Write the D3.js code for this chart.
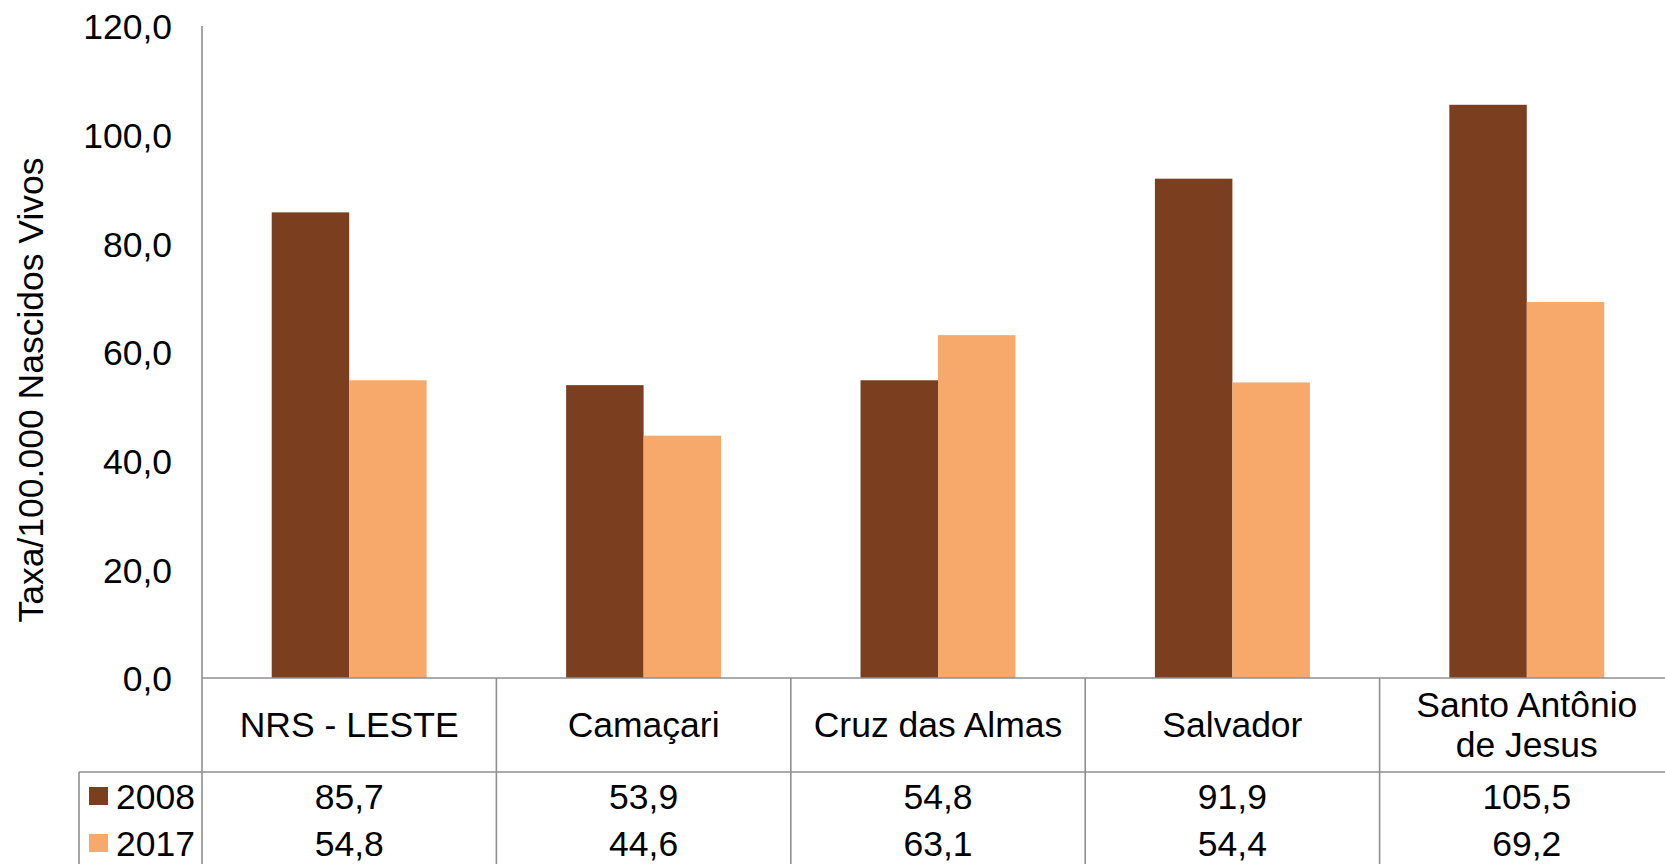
<!DOCTYPE html>
<html>
<head>
<meta charset="utf-8">
<script src="https://cdn.jsdelivr.net/npm/d3@7/dist/d3.min.js"></script>
<style>
  html, body { margin: 0; padding: 0; background: #fff; overflow: hidden; }
  svg { display: block; font-family: "Liberation Sans", Arial, sans-serif; }
</style>
</head>
<body>
<svg id="chart" width="1665" height="864"></svg>
<script>
const categories = ["NRS - LESTE", "Camaçari", "Cruz das Almas", "Salvador", "Santo Antônio de Jesus"];
const seriesNames = ["2008", "2017"];
const values2008 = [85.7, 53.9, 54.8, 91.9, 105.5];
const values2017 = [54.8, 44.6, 63.1, 54.4, 69.2];
const tickValues = [0, 20, 40, 60, 80, 100, 120];
const yTitle = "Taxa/100.000 Nascidos Vivos";
const colors = ["#7B3F1F", "#F6A96A"];

(function () {
const series = [values2008, values2017];
const locale = d3.formatLocale({decimal: ",", thousands: ".", grouping: [3], currency: ["R$", ""]});
const fmt = locale.format(".1f");

const svg = d3.select("#chart");
const plotLeft = 202, plotTop = 26, base = 678;
const plotRight = plotLeft + 294.4 * 5;
const fontSize = 35.5;
const gridColor = "#8f8f8f";

const x = d3.scaleBand().domain(categories).range([plotLeft, plotRight]).padding(0);
const xs = d3.scaleBand().domain(seriesNames).range([0, x.bandwidth()]).paddingInner(0).paddingOuter(0.9);
const y = d3.scaleLinear().domain([0, 120]).range([base, plotTop]);

// bars
seriesNames.forEach((s, si) => {
  svg.append("g").selectAll("rect").data(categories).join("rect")
    .attr("x", d => x(d) + xs(s))
    .attr("y", (d, i) => y(series[si][i]))
    .attr("width", xs.bandwidth())
    .attr("height", (d, i) => y(0) - y(series[si][i]))
    .attr("fill", colors[si]);
});

// y axis
const yAxis = d3.axisLeft(y).tickValues(tickValues).tickFormat(fmt).tickSizeInner(0).tickSizeOuter(0).tickPadding(30);
const gy = svg.append("g").attr("transform", `translate(${plotLeft},0)`).call(yAxis);
gy.select(".domain").remove();
gy.selectAll("text").attr("font-size", fontSize).attr("font-family", "'Liberation Sans', Arial, sans-serif").attr("fill", "#000").attr("dy", "0.36em");

// y title
svg.append("text")
  .attr("transform", `translate(43,390) rotate(-90)`)
  .attr("text-anchor", "middle")
  .attr("font-size", fontSize)
  .attr("fill", "#000")
  .text(yTitle);

// table lines
const H = 864;
const row1 = 772;
const lines = svg.append("g").attr("stroke", gridColor).attr("stroke-width", 1.6).attr("fill", "none");
lines.append("line").attr("x1", plotLeft).attr("x2", plotLeft).attr("y1", plotTop).attr("y2", H);
lines.append("line").attr("x1", plotLeft).attr("x2", plotRight).attr("y1", base).attr("y2", base);
lines.append("line").attr("x1", 79).attr("x2", plotRight).attr("y1", row1).attr("y2", row1);
lines.append("line").attr("x1", 79).attr("x2", 79).attr("y1", row1).attr("y2", H);
lines.selectAll("line.v").data(categories).join("line").attr("class", "v")
  .attr("x1", d => x(d) + x.bandwidth()).attr("x2", d => x(d) + x.bandwidth())
  .attr("y1", base).attr("y2", H);

// category labels (wrapped)
const catG = svg.append("g").attr("font-size", fontSize).attr("text-anchor", "middle").attr("fill", "#000");
categories.forEach(c => {
  const cx = x(c) + x.bandwidth() / 2;
  const t = catG.append("text").attr("x", cx);
  const words = c.split(" ");
  let linesArr = [], cur = [];
  words.forEach(w => {
    cur.push(w);
    t.text(cur.join(" "));
    if (t.node().getComputedTextLength() > x.bandwidth() - 34 && cur.length > 1) {
      cur.pop();
      linesArr.push(cur.join(" "));
      cur = [w];
    }
  });
  linesArr.push(cur.join(" "));
  t.text(null);
  const lh = 40;
  const firstBase = 737 - (linesArr.length - 1) * lh / 2;
  linesArr.forEach((ln, i) => {
    t.append("tspan").attr("x", cx).attr("y", firstBase + i * lh).text(ln);
  });
});

// data rows
const rowBases = [809, 856];
seriesNames.forEach((s, si) => {
  svg.append("rect").attr("x", 89).attr("y", rowBases[si] - 22).attr("width", 19).attr("height", 18).attr("fill", colors[si]);
  svg.append("text").attr("x", 116).attr("y", rowBases[si]).attr("font-size", fontSize).attr("fill", "#000").text(s);
  svg.append("g").selectAll("text").data(categories).join("text")
    .attr("x", d => x(d) + x.bandwidth() / 2)
    .attr("y", rowBases[si])
    .attr("text-anchor", "middle")
    .attr("font-size", fontSize)
    .attr("fill", "#000")
    .text((d, i) => fmt(series[si][i]));
});
})();
</script>
</body>
</html>
